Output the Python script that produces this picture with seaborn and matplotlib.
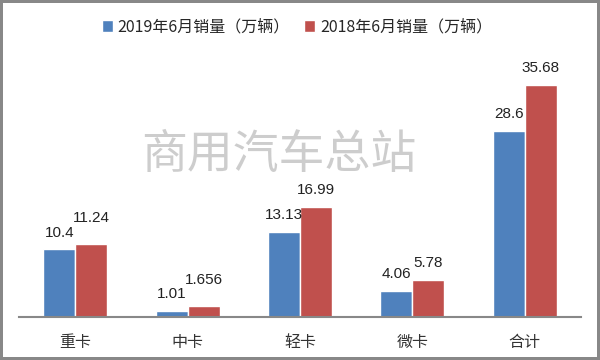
import numpy as np
import pandas as pd
import matplotlib
matplotlib.use("Agg")
import matplotlib.pyplot as plt
import seaborn as sns

# ---------- data ----------
categories = ["重卡", "中卡", "轻卡", "微卡", "合计"]
series_names = ["2019年6月销量（万辆）", "2018年6月销量（万辆）"]
sales_2019 = [10.4, 1.01, 13.13, 4.06, 28.6]
sales_2018 = [11.24, 1.656, 16.99, 5.78, 35.68]
labels_2019 = ["10.4", "1.01", "13.13", "4.06", "28.6"]
labels_2018 = ["11.24", "1.656", "16.99", "5.78", "35.68"]
watermark = "商用汽车总站"

colors = ["#4F81BD", "#C0504D"]

df = pd.DataFrame({
    "cat": categories * 2,
    "series": [series_names[0]] * len(categories) + [series_names[1]] * len(categories),
    "value": sales_2019 + sales_2018,
})

sns.set_style("white")
plt.rcParams['font.family'] = ['Noto Sans CJK SC', 'DejaVu Sans']

fig = plt.figure(figsize=(6, 3.6), dpi=100)
ax = fig.add_axes([0.032, 0.119, 0.936, 0.723])

sns.barplot(data=df, x="cat", y="value", hue="series", order=categories,
            hue_order=series_names, palette=colors, width=0.57, gap=0,
            saturation=1, ax=ax, legend=True)

# data labels (red labels lifted where they would collide with blue ones)
lifted = {"11.24", "1.656"}
for cont, labs in zip(ax.containers, [labels_2019, labels_2018]):
    for bar, lab in zip(cont.patches, labs):
        x = bar.get_x() + bar.get_width() / 2
        y = bar.get_height()
        pad = 14 if lab in lifted else 7
        ax.annotate(lab, (x, y), xytext=(0, pad), textcoords="offset points",
                    ha="center", va="bottom", fontsize=11,
                    family=['Liberation Sans'], color='#222222')

ax.set_xlim(-0.5, 4.5)
ax.set_ylim(0, 40)
ax.set_xlabel("")
ax.set_ylabel("")
ax.set_yticks([])
ax.tick_params(axis='x', length=0, pad=12, labelsize=11.5, labelcolor='#333333')
for s in ["top", "right", "left"]:
    ax.spines[s].set_visible(False)
ax.spines["bottom"].set_color("#888888")
ax.spines["bottom"].set_linewidth(1.5)

# legend on top
handles, labs = ax.get_legend_handles_labels()
ax.legend_.remove()
fig.legend(handles, labs, loc="center", bbox_to_anchor=(0.495, 0.925), ncol=2,
           frameon=False, fontsize=11.5, handlelength=0.7, handleheight=0.7,
           handletextpad=0.3, columnspacing=0.9)

# watermark
fig.text(279 / 600, 1 - 155 / 360, watermark, ha="center", va="center",
         fontsize=33, color="#cdcdcd", fontweight="light")

# outer border
fig.patch.set_edgecolor("#888888")
fig.patch.set_linewidth(3)

fig.savefig("out.png", dpi=100, edgecolor=fig.get_edgecolor())
